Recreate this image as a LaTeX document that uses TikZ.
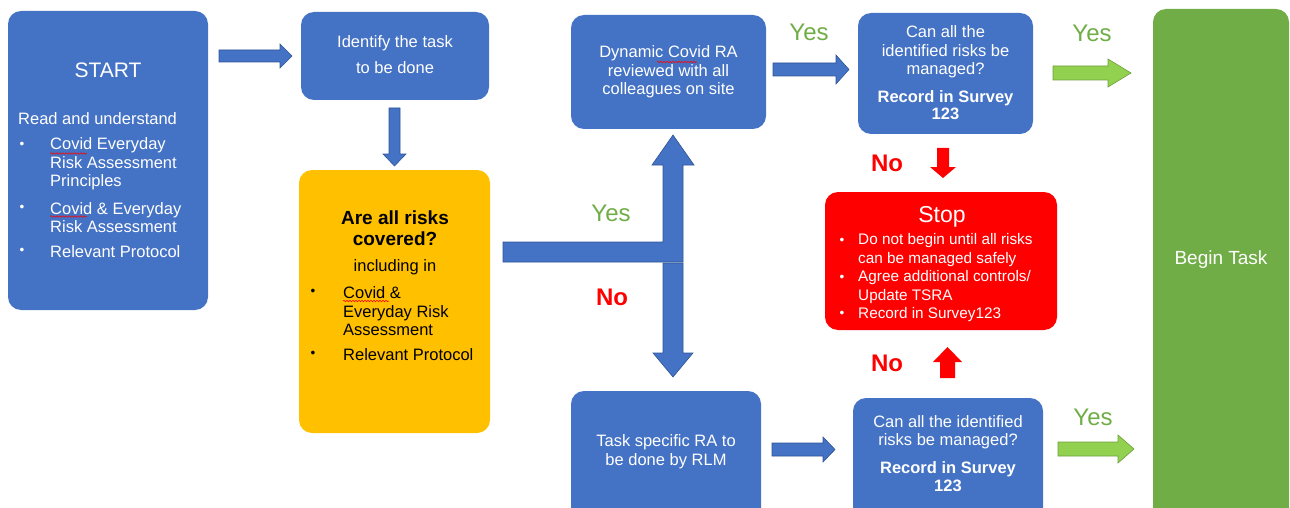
\documentclass[tikz,border=0pt]{standalone}
\usepackage{fontspec}
\setmainfont{Liberation Sans}
\usetikzlibrary{decorations.pathmorphing}
\definecolor{boxblue}{HTML}{4472C4}
\definecolor{edgeblue}{HTML}{2F5597}
\definecolor{yel}{HTML}{FFC000}
\definecolor{stopred}{HTML}{FF0000}
\definecolor{boxgreen}{HTML}{70AD47}
\definecolor{arrgreen}{HTML}{92D050}
\definecolor{arredge}{HTML}{6E9F3A}
\newcommand\fsz[2]{\fontsize{#1}{#2}\selectfont}
\tikzset{
  box/.style={rounded corners=13pt, inner sep=0pt, draw=none},
  bluebox/.style={box, fill=boxblue},
  wtxt/.style={text=white, inner sep=0pt, align=center, font=\fsz{16.5}{18.5}},
  ktxt/.style={text=black, inner sep=0pt, align=center, font=\fsz{16.5}{18.5}},
  bul/.style={inner sep=0pt, font=\fsz{13.5}{14}},
  barrow/.style={fill=boxblue, draw=edgeblue, line width=0.6pt},
  garrow/.style={fill=arrgreen, draw=arredge, line width=0.6pt},
  rarrow/.style={fill=stopred, draw=none},
  yeslbl/.style={text=boxgreen, inner sep=0pt, font=\fsz{24}{26}},
  nolbl/.style={text=stopred, inner sep=0pt, font=\fsz{24}{26}\bfseries},
  squig/.style={draw=red, line width=0.5pt, decorate, decoration={snake, amplitude=0.8pt, segment length=3pt}}
}
\begin{document}
\begin{tikzpicture}[x=1pt,y=-1pt]
\useasboundingbox (0,0) rectangle (1290,508);
\clip (0,0) rectangle (1290,508);

% ---------- boxes ----------
\node[bluebox, minimum width=200pt, minimum height=299pt] (start) at (108,160.5) {};
\node[bluebox, minimum width=188pt, minimum height=88pt] (ident) at (395,56) {};
\node[box, fill=yel, minimum width=191pt, minimum height=263pt] (cover) at (394.5,301.5) {};
\node[bluebox, minimum width=195pt, minimum height=114pt] (dyn) at (668.5,72) {};
\node[bluebox, minimum width=175pt, minimum height=121pt] (canA) at (945.5,73.5) {};
\node[box, fill=stopred, minimum width=232pt, minimum height=138pt] (stop) at (941,261) {};
\node[bluebox, minimum width=190pt, minimum height=134pt] (task) at (666,458) {};
\node[bluebox, minimum width=190pt, minimum height=127pt] (canB) at (948,461.5) {};
\node[box, fill=boxgreen, minimum width=136pt, minimum height=516pt] (begin) at (1221,267) {};

% ---------- START text ----------
\node[wtxt, font=\fsz{21}{24}] (startT) at (108,70) {START};
\node[wtxt, anchor=west] (readT) at (18,119) {Read and understand};
\node[bul, text=white] (sb1) at (22,145) {•};
\node[bul, text=white] (sb2) at (22,208) {•};
\node[bul, text=white] (sb3) at (22,251) {•};
\node[wtxt, anchor=west, align=left] (si1) at (50,164) {Covid Everyday\\Risk Assessment\\Principles};
\node[wtxt, anchor=west, align=left] (si2) at (50,217.5) {Covid \& Everyday\\Risk Assessment};
\node[wtxt, anchor=west, align=left] (si3) at (50,251.5) {Relevant Protocol};
\draw[squig] (50,153.5) -- (87,153.5);
\draw[squig] (50,216.5) -- (87,216.5);

% ---------- identify ----------
\node[wtxt, font=\fsz{16.5}{25.5}] (identT) at (395,54.5) {Identify the task\\to be done};

% ---------- covered ----------
\node[ktxt, font=\fsz{19}{21.5}\bfseries] (coverT) at (395,228) {Are all risks\\covered?};
\node[ktxt] (inclT) at (395,267.5) {including in};
\node[bul] (cb1) at (313,292) {•};
\node[bul] (cb2) at (313,354) {•};
\node[ktxt, anchor=west, align=left] (ci1) at (343,311.5) {Covid \&\\Everyday Risk\\Assessment};
\node[ktxt, anchor=west, align=left] (ci2) at (343,355) {Relevant Protocol};
\draw[squig] (343,301) -- (389,301);

% ---------- dynamic ----------
\node[wtxt] (dynT) at (668.5,72) {Dynamic Covid RA\\reviewed with all\\colleagues on site};
\draw[squig] (657,62) -- (697,62);

% ---------- can A ----------
\node[wtxt] (canAT) at (945.5,52) {Can all the\\identified risks be\\managed?};
\node[wtxt, font=\fsz{16.5}{17.5}\bfseries] (canAR) at (945.5,105) {Record in Survey\\123};

% ---------- stop ----------
\node[wtxt, font=\fsz{23}{26}] (stopT) at (942,217) {Stop};
\node[bul, text=white] (tb1) at (842,241) {•};
\node[bul, text=white] (tb2) at (842,278) {•};
\node[bul, text=white] (tb3) at (842,314) {•};
\node[wtxt, anchor=west, align=left, font=\fsz{15.3}{18.3}] (ti1) at (858,250) {Do not begin until all risks\\can be managed safely};
\node[wtxt, anchor=west, align=left, font=\fsz{15.3}{18.3}] (ti2) at (858,287) {Agree additional controls/\\Update TSRA};
\node[wtxt, anchor=west, align=left, font=\fsz{15.3}{18.3}] (ti3) at (858,314.5) {Record in Survey123};

% ---------- task ----------
\node[wtxt] (taskT) at (666,451.5) {Task specific RA to\\be done by RLM};

% ---------- can B ----------
\node[wtxt] (canBT) at (948,432) {Can all the identified\\risks be managed?};
\node[wtxt, font=\fsz{16.5}{17.5}\bfseries] (canBR) at (948,476.5) {Record in Survey\\123};

% ---------- begin ----------
\node[wtxt, font=\fsz{19}{22}] (beginT) at (1221,260) {Begin Task};

% ---------- block arrows ----------
\path[barrow] (219,50) -- (280,50) -- (280,44) -- (292,56) -- (280,68) -- (280,62) -- (219,62) -- cycle;
\path[barrow] (389,108) -- (400,108) -- (400,154) -- (406,154) -- (394.5,166) -- (383,154) -- (389,154) -- cycle;
\path[barrow] (503,242) -- (663,242) -- (663,165) -- (652,165) -- (673,135) -- (694,165) -- (683,165) -- (683,262) -- (503,262) -- cycle;
\path[barrow] (663,263) -- (683,263) -- (683,353) -- (693,353) -- (673,377) -- (653,353) -- (663,353) -- cycle;
\path[barrow] (773,63) -- (836,63) -- (836,55) -- (849,69.5) -- (836,84) -- (836,76) -- (773,76) -- cycle;
\path[barrow] (772,443) -- (823,443) -- (823,437) -- (835,449.5) -- (823,462) -- (823,456) -- (772,456) -- cycle;
\path[garrow] (1053,66) -- (1108,66) -- (1108,59) -- (1131,73) -- (1108,87) -- (1108,80) -- (1053,80) -- cycle;
\path[garrow] (1058,442) -- (1118,442) -- (1118,435) -- (1134,449) -- (1118,463) -- (1118,456) -- (1058,456) -- cycle;
\path[rarrow] (937,148) -- (949,148) -- (949,167) -- (956,167) -- (943,178) -- (930,167) -- (937,167) -- cycle;
\path[rarrow] (940,378) -- (955,378) -- (955,362) -- (962,362) -- (947.5,347) -- (933,362) -- (940,362) -- cycle;

% ---------- labels ----------
\node[yeslbl] (yes1) at (809,32) {Yes};
\node[yeslbl] (yes2) at (1092,33) {Yes};
\node[yeslbl] (yes3) at (611,213) {Yes};
\node[yeslbl] (yes4) at (1093,417) {Yes};
\node[nolbl] (no1) at (887,163) {No};
\node[nolbl] (no2) at (612,297) {No};
\node[nolbl] (no3) at (887,363) {No};
\end{tikzpicture}
\end{document}
